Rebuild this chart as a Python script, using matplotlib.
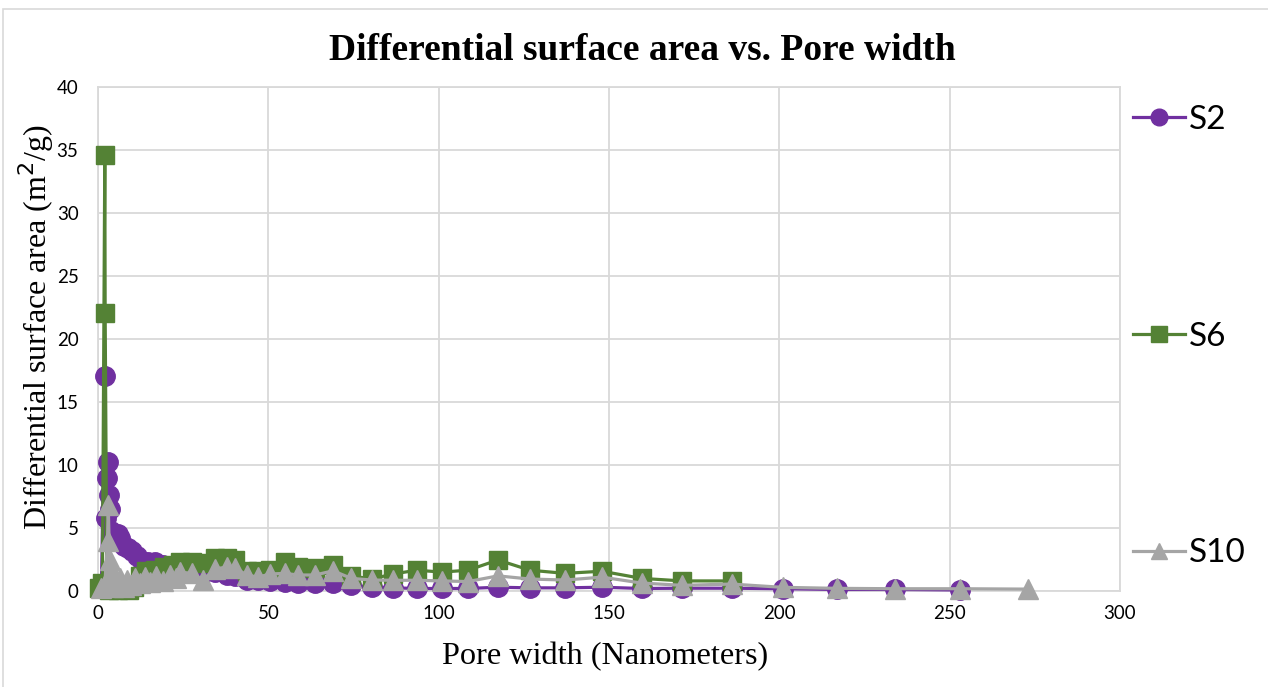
import matplotlib
matplotlib.use("Agg")
import matplotlib.pyplot as plt
from matplotlib.patches import Rectangle

# Pore width (nm) and differential surface area (m2/g) for each sample
s2_width = [1.0, 2.05, 2.3, 2.6, 2.9, 3.2, 3.5, 3.8, 4.3, 5.0, 5.8, 6.6, 7.6, 8.7,
            10.0, 11.4, 13.0, 14.8, 16.8, 19.0, 21.5, 24.1, 27.5, 30.8, 34.3, 37.8,
            40.2, 43.6, 47.0, 50.5, 54.9, 58.7, 63.7, 69.0, 74.4, 80.3, 86.6, 93.6,
            100.9, 108.6, 117.4, 126.8, 137.1, 147.9, 159.6, 171.5, 186.0, 201.0,
            217.0, 234.0, 253.0]
s2_area = [0.3, 17.1, 5.8, 9.0, 10.2, 7.6, 6.5, 4.8, 4.6, 4.4, 4.5, 4.2, 3.6, 3.4,
           3.2, 2.8, 2.4, 2.3, 2.3, 2.1, 2.0, 1.8, 1.6, 1.4, 1.5, 1.3,
           1.2, 0.9, 0.85, 0.8, 0.75, 0.6, 0.6, 0.6, 0.45, 0.3, 0.25, 0.2,
           0.2, 0.2, 0.3, 0.25, 0.25, 0.3, 0.2, 0.22, 0.22, 0.18,
           0.12, 0.12, 0.08]

s6_width = [0.4, 1.3, 2.0, 2.1, 2.6, 3.2, 4.0, 5.0, 6.0, 7.5, 9.0, 10.5, 12.2, 14.2,
            16.6, 19.5, 22.0, 24.1, 27.5, 30.8, 34.3, 37.8, 40.2, 43.6, 47.0, 50.5,
            54.9, 58.7, 63.7, 69.0, 74.4, 80.3, 86.6, 93.6, 100.9, 108.6, 117.4,
            126.8, 137.1, 147.9, 159.6, 171.5, 186.0]
s6_area = [0.2, 0.6, 34.6, 22.1, 0.3, 0.1, 0.2, 0.3, 0.1, 0.2, 0.1, 0.3, 1.2, 1.6,
           1.7, 1.9, 2.1, 2.3, 2.3, 2.2, 2.6, 2.6, 2.5, 1.6, 1.6, 1.7,
           2.3, 1.9, 1.8, 2.1, 1.2, 0.95, 1.35, 1.65, 1.5, 1.65, 2.46,
           1.65, 1.4, 1.57, 1.0, 0.8, 0.8]

s10_width = [1.0, 2.0, 2.8, 3.0, 3.4, 3.9, 4.5, 5.1, 5.8, 6.6, 7.5, 8.5, 9.6, 10.8,
             12.2, 13.7, 15.3, 17.1, 19.0, 21.0, 22.8, 24.1, 27.5, 30.8, 34.3, 37.8,
             40.2, 43.6, 47.0, 50.5, 54.9, 58.7, 63.7, 69.0, 74.4, 80.3, 86.6, 93.6,
             100.9, 108.6, 117.4, 126.8, 137.1, 147.9, 159.6, 171.5, 186.0, 201.0,
             217.0, 234.0, 253.0, 273.0]
s10_area = [0.2, 0.5, 4.0, 6.8, 2.5, 1.5, 0.3, 1.1, 0.4, 1.0, 0.3, 0.9, 0.5, 1.0,
            0.6, 1.1, 0.7, 1.2, 0.8, 1.3, 1.0, 1.5, 1.4, 0.87, 1.75, 1.9,
            1.85, 1.27, 1.1, 1.35, 1.4, 1.27, 1.27, 1.6, 1.0, 0.87, 0.85, 0.85,
            0.8, 0.75, 1.2, 0.95, 0.87, 1.1, 0.63, 0.45, 0.55, 0.29,
            0.21, 0.18, 0.18, 0.15]

series_names = ["S2", "S6", "S10"]
x_ticks = [0, 50, 100, 150, 200, 250, 300]
y_ticks = [0, 5, 10, 15, 20, 25, 30, 35, 40]

purple = "#7030A0"
green = "#548235"
grey = "#A5A5A5"
grid_c = "#D9D9D9"

W, H = 1268, 687
fig = plt.figure(figsize=(W / 100, H / 100), dpi=100)
fig.patches.append(Rectangle((3 / W, -0.02), 1.0, 1 - 9 / H + 0.02,
                             transform=fig.transFigure, fill=False,
                             edgecolor=grid_c, linewidth=1.2))
ax = fig.add_axes([98 / W, 1 - 591 / H, (1120 - 98) / W, (591 - 87) / H])

lw = 2.3
ms = 14
ax.plot(s2_width, s2_area, color=purple, lw=lw, marker="o", ms=ms,
        label=series_names[0], zorder=3, clip_on=False)
ax.plot(s6_width, s6_area, color=green, lw=lw, marker="s", ms=ms - 1,
        label=series_names[1], zorder=4, clip_on=False)
ax.plot(s10_width, s10_area, color=grey, lw=lw, marker="^", ms=ms,
        label=series_names[2], zorder=5, clip_on=False)

ax.set_xlim(0, 300)
ax.set_ylim(0, 40)
ax.set_xticks(x_ticks)
ax.set_yticks(y_ticks)
ax.grid(True, color=grid_c, lw=1.3)
ax.set_axisbelow(True)
for sp in ax.spines.values():
    sp.set_color(grid_c)
    sp.set_linewidth(1.3)
ax.tick_params(axis="y", length=0, labelsize=13.5, colors="#000000", pad=14)
ax.tick_params(axis="x", length=0, labelsize=13.5, colors="#000000", pad=10)
for lab in ax.get_xticklabels() + ax.get_yticklabels():
    lab.set_family("Lato")

fig.text(642 / W, 1 - 50 / H, "Differential surface area vs. Pore width",
         family="Liberation Serif", fontweight="bold", fontsize=27,
         ha="center", va="center")
fig.text(605 / W, 1 - 657 / H, "Pore width (Nanometers)", family="Liberation Serif",
         fontsize=23.2, ha="center", va="center")
fig.text(36 / W, 1 - 327 / H, "Differential surface area (m$^2$/g)",
         family="Liberation Serif", fontsize=23, rotation=90,
         ha="center", va="center")

leg = ax.legend(loc="upper left", bbox_to_anchor=(1.0, 0.991), frameon=False,
                prop={"family": "Lato", "size": 24}, labelspacing=5.6,
                handlelength=1.55, handletextpad=0.12, borderaxespad=0.0)
for h in leg.legend_handles:
    h.set_markersize(12)

fig.savefig("out.png", dpi=100)
